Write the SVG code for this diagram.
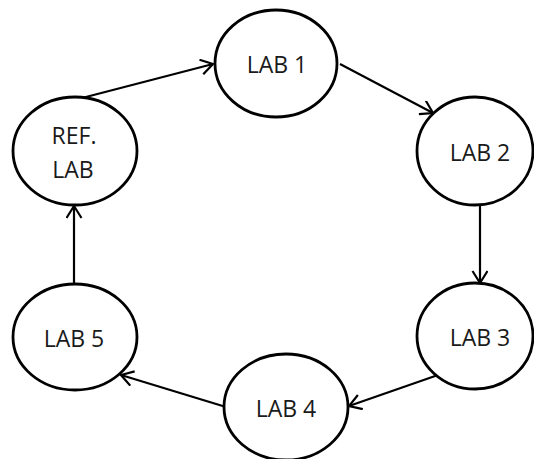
<svg xmlns="http://www.w3.org/2000/svg" width="534" height="459" viewBox="0 0 534 459">
<defs>
<style>
.node ellipse{fill:#fff;stroke:#000;stroke-width:2.8}
.node text{font-family:"Open Sans","Liberation Sans",Arial,sans-serif;font-size:23px;fill:#1a1a1a;text-anchor:middle}
.conn line{stroke:#000;stroke-width:2.2;fill:none;marker-end:url(#arr)}
</style>
<marker id="arr" markerUnits="userSpaceOnUse" markerWidth="20" markerHeight="20" refX="13" refY="8" orient="auto">
<path d="M1,0.5 L13,8 L1,15.5" fill="none" stroke="#000" stroke-width="2.2"/>
</marker>
</defs>
<rect width="534" height="459" fill="#fff"/>
<g id="connectors" class="conn">
<line x1="82" y1="98" x2="213" y2="64"/>
<line x1="340" y1="64" x2="433" y2="113"/>
<line x1="480" y1="206" x2="480" y2="283"/>
<line x1="438" y1="375" x2="349" y2="406"/>
<line x1="226" y1="407" x2="121" y2="375"/>
<line x1="74" y1="284" x2="74" y2="206"/>
</g>
<g id="lab1" class="node">
<ellipse cx="276" cy="63.5" rx="61" ry="53.5"/>
<text x="277" y="73">LAB 1</text>
</g>
<g id="reflab" class="node">
<ellipse cx="75" cy="151" rx="62" ry="54"/>
<text x="74" y="144">REF.</text>
<text x="73" y="178">LAB</text>
</g>
<g id="lab2" class="node">
<ellipse cx="475" cy="151" rx="58" ry="54"/>
<text x="480" y="161">LAB 2</text>
</g>
<g id="lab3" class="node">
<ellipse cx="475" cy="336" rx="58" ry="53"/>
<text x="480" y="346">LAB 3</text>
</g>
<g id="lab4" class="node">
<ellipse cx="286" cy="407" rx="62" ry="53"/>
<text x="286" y="417">LAB 4</text>
</g>
<g id="lab5" class="node">
<ellipse cx="75" cy="337" rx="62" ry="53"/>
<text x="74" y="347">LAB 5</text>
</g>
</svg>
